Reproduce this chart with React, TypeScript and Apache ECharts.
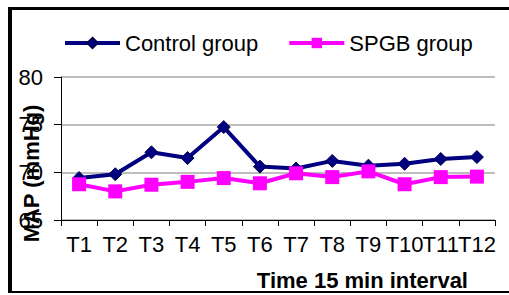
import React, { useEffect, useRef } from "react";
import * as echarts from "echarts";

const categories = ["T1", "T2", "T3", "T4", "T5", "T6", "T7", "T8", "T9", "T10", "T11", "T12"];
const controlValues = [69.4, 69.8, 72.1, 71.5, 74.75, 70.6, 70.4, 71.2, 70.7, 70.9, 71.4, 71.6];
const spgbValues = [68.75, 68.0, 68.7, 69.0, 69.4, 68.85, 69.9, 69.5, 70.1, 68.75, 69.5, 69.55];
const yTicks = { min: 65, max: 80, interval: 5 };

const FONT = "Liberation Sans, Arial, sans-serif";
const FS = 22;

export default function App() {
  const ref = useRef<HTMLDivElement>(null);
  useEffect(() => {
    if (!ref.current) return;
    const chart = echarts.init(ref.current, undefined, { renderer: "svg" });
    chart.setOption({
      animation: false,
      backgroundColor: "#ffffff",
      legend: {
        left: 63,
        top: 32,
        padding: 0,
        itemWidth: 55,
        itemHeight: 13,
        itemGap: 29,
        lineStyle: { width: 4 },
        textStyle: { fontFamily: FONT, fontSize: FS, color: "#000" },
        data: ["Control group", "SPGB group"],
      },
      grid: { left: 61, right: 14, top: 77, bottom: 75, containLabel: false, outerBoundsMode: "none" },
      xAxis: {
        type: "category",
        data: categories,
        boundaryGap: true,
        axisLine: { lineStyle: { color: "#000", width: 1 } },
        axisTick: { show: true, length: 6, lineStyle: { color: "#000" } },
        axisLabel: { fontFamily: FONT, fontSize: FS, color: "#000", margin: 13, interval: 0 },
        splitLine: { show: false },
      },
      yAxis: {
        type: "value",
        min: yTicks.min,
        max: yTicks.max,
        interval: yTicks.interval,
        name: "MAP (mmHg)",
        nameLocation: "middle",
        nameGap: 19,
        nameMoveOverlap: false,
        nameTextStyle: {
          fontFamily: FONT,
          fontSize: FS,
          fontWeight: "bold",
          color: "#000",
          padding: [0, 50, 0, 0],
        },
        axisLine: { show: true, lineStyle: { color: "#000", width: 1 } },
        axisTick: { show: true, length: 7, lineStyle: { color: "#000" } },
        axisLabel: { fontFamily: FONT, fontSize: FS, color: "#000", margin: 18 },
        splitLine: { show: true, lineStyle: { color: "#a8a8a8", width: 1.5 } },
      },
      series: [
        {
          name: "Control group",
          type: "line",
          data: controlValues,
          symbol: "diamond",
          symbolSize: 13,
          lineStyle: { color: "#000080", width: 4 },
          itemStyle: { color: "#000080", borderColor: "#000050", borderWidth: 1 },
          z: 2,
        },
        {
          name: "SPGB group",
          type: "line",
          data: spgbValues,
          symbol: "rect",
          symbolSize: 14,
          lineStyle: { color: "#ff00ff", width: 4 },
          itemStyle: { color: "#ff00ff" },
          z: 3,
        },
      ],
      graphic: [
        { type: "rect", shape: { x: 8, y: 7, width: 501, height: 3 }, style: { fill: "#000" } },
        { type: "rect", shape: { x: 8, y: 7, width: 4, height: 286 }, style: { fill: "#000" } },
        { type: "rect", shape: { x: 8, y: 291, width: 501, height: 2 }, style: { fill: "#000" } },
        {
          type: "text",
          x: 468,
          y: 291,
          style: {
            text: "Time 15 min interval",
            fontFamily: FONT,
            fontSize: FS,
            fontWeight: "bold",
            fill: "#000",
            textAlign: "right",
            textVerticalAlign: "bottom",
          },
        },
      ],
    });
    return () => chart.dispose();
  }, []);
  return (
    <div
      ref={ref}
      style={{ position: "fixed", left: 0, top: 0, width: 509, height: 295 }}
    />
  );
}
